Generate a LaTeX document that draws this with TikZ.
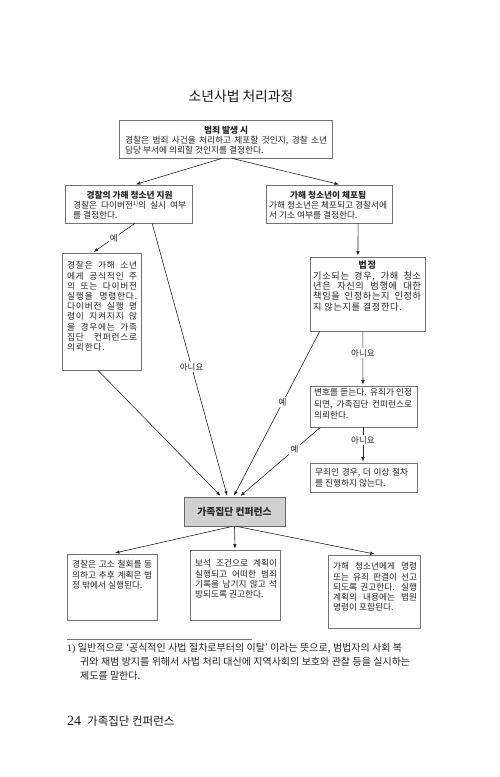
\documentclass[tikz,border=0pt]{standalone}
\usepackage{fontspec}
\setmainfont{Noto Sans CJK KR}
\newfontfamily\numfont{Liberation Serif}
\newfontfamily\krwide[LetterSpace=9]{Noto Sans CJK KR}
\newfontfamily\krwider[LetterSpace=7]{Noto Sans CJK KR}
\usetikzlibrary{arrows.meta,calc}
\newcommand\myjust[2]{\makebox[#1pt][s]{#2}}
\newcommand\myleft[2]{\makebox[#1pt][l]{#2}}
\newcommand\bxfont{\fontsize{8.7}{10.2}\selectfont}
\tikzset{
  boxst/.style={draw=black!55, line width=0.7pt, inner sep=0pt, fill=white},
  graybox/.style={draw=black!60, line width=0.7pt, inner sep=0pt, fill=black!18},
  txt/.style={inner sep=0pt, align=center, font=\bxfont, text=black!85, anchor=north west},
  conn/.style={draw=black!85, line width=0.6pt, -{Latex[length=4.5pt,width=3.4pt]}, shorten >=1pt},
  lbl/.style={font=\fontsize{8.5}{9}\selectfont, fill=white, inner sep=1.2pt, text=black!85}
}
\begin{document}
\begin{tikzpicture}[x=1pt,y=-1pt]
\useasboundingbox[fill=white] (0,0) rectangle (500,777);

% title
\node[font=\fontsize{13.8}{16}\selectfont, text=black!90] (title) at (241,96) {소년사법 처리과정};

% boxes
\node[boxst, minimum width=213pt, minimum height=38pt] (b1) at (225.5,139) {};
\node[boxst, minimum width=127pt, minimum height=38pt] (b2) at (128.5,204) {};
\node[boxst, minimum width=126pt, minimum height=38pt] (b3) at (329,204) {};
\node[boxst, minimum width=79pt, minimum height=117pt] (b4) at (101.5,311.5) {};
\node[boxst, minimum width=115pt, minimum height=74pt] (b5) at (367.5,294) {};
\node[boxst, minimum width=107pt, minimum height=41pt] (b6) at (363.5,406.5) {};
\node[boxst, minimum width=107pt, minimum height=29pt] (b7) at (363.5,477.5) {};
\node[graybox, minimum width=101pt, minimum height=29pt, font=\fontsize{9.8}{11}\bfseries\selectfont, text=black!85] (g) at (234.5,511.5) {가족집단 컨퍼런스};
\node[boxst, minimum width=90pt, minimum height=66pt] (bA) at (112,587) {};
\node[boxst, minimum width=90pt, minimum height=70pt] (bB) at (235,585) {};
\node[boxst, minimum width=92pt, minimum height=73pt] (bC) at (374,591.5) {};

% texts
\node[txt] (t1) at (125,125.5) {{\bfseries 범죄 발생 시}\\
\myjust{202}{경찰은 범죄 사건을 처리하고 체포할 것인지, 경찰 소년}\\
\myleft{202}{담당 부서에 의뢰할 것인지를 결정한다.}};
\node[txt] (t2) at (73,190.5) {{\bfseries 경찰의 가해 청소년 지원}\\
\myjust{113}{경찰은 다이버전\raisebox{3.2pt}{\fontsize{5.5}{5.5}\selectfont 1)}의 실시 여부}\\
\myleft{113}{를 결정한다.}};
\node[txt] (t3) at (269,190.5) {{\bfseries 가해 청소년이 체포됨}\\
\myjust{118}{가해 청소년은 체포되고 경찰서에}\\
\myleft{118}{서 기소 여부를 결정한다.}};
\node[txt, font=\krwide\bxfont] (t4) at (67,261.5) {\myjust{70}{경찰은 가해 소년}\\
\myjust{70}{에게 공식적인 주}\\
\myjust{70}{의 또는 다이버전}\\
\myjust{70}{실행을 명령한다.}\\
\myjust{70}{다이버전 실행 명}\\
\myjust{70}{령이 지켜지지 않}\\
\myjust{70}{을 경우에는 가족}\\
\myjust{70}{집단 컨퍼런스로}\\
\myleft{70}{의뢰한다.}};
\node[txt, font=\krwider\fontsize{9.2}{10.3}\selectfont] (t5) at (313,261) {{\bfseries 법정}\\
\myjust{108}{기소되는 경우, 가해 청소}\\
\myjust{108}{년은 자신의 범행에 대한}\\
\myjust{108}{책임을 인정하는지 인정하}\\
\myleft{108}{지 않는지를 결정한다.}};
\node[txt, font=\fontsize{8.7}{11.5}\selectfont] (t6) at (314,388.5) {\myjust{98}{변호를 듣는다. 유죄가 인정}\\
\myjust{98}{되면, 가족집단 컨퍼런스로}\\
\myleft{98}{의뢰한다.}};
\node[txt] (t7) at (315,468.5) {\myjust{93}{무죄인 경우, 더 이상 절차}\\
\myleft{93}{를 진행하지 않는다.}};
\node[txt] (tA) at (72,560.5) {\myjust{80}{경찰은 고소 철회를 동}\\
\myjust{80}{의하고 추후 계획은 법}\\
\myleft{80}{정 밖에서 실행된다.}};
\node[txt] (tB) at (195,559.5) {\myjust{82}{보석 조건으로 계획이}\\
\myjust{82}{실행되고 어떠한 범죄}\\
\myjust{82}{기록을 남기지 않고 석}\\
\myleft{82}{방되도록 권고한다.}};
\node[txt] (tC) at (333,562.5) {\myjust{84}{가해 청소년에게 명령}\\
\myjust{84}{또는 유죄 판결이 선고}\\
\myjust{84}{되도록 권고한다. 실행}\\
\myjust{84}{계획의 내용에는 법원}\\
\myleft{84}{명령이 포함된다.}};

% connectors
\draw[conn] ($(b1.south west)!0.484!(b1.south east)$) -- ($(b2.north west)!0.55!(b2.north east)$);
\draw[conn] ($(b1.south west)!0.53!(b1.south east)$) -- ($(b3.north west)!0.587!(b3.north east)$);
\draw[conn] ($(b2.south west)!0.55!(b2.south east)$) -- node[lbl, pos=0.5] (l1) {예} ($(b4.north west)!0.39!(b4.north east)$);
\draw[conn] ($(b2.south west)!0.685!(b2.south east)$) -- node[lbl, pos=0.525] (l2) {아니요} ($(g.north west)!0.43!(g.north east)$);
\draw[conn] ($(b4.south west)!0.456!(b4.south east)$) -- ($(g.north west)!0.37!(g.north east)$);
\draw[conn] ($(b3.south west)!0.73!(b3.south east)$) -- ($(b5.north west)!0.417!(b5.north east)$);
\draw[conn] ($(b5.south west)!0.46!(b5.south east)$) -- node[lbl, pos=0.4] (l3) {아니요} ($(b6.north west)!0.495!(b6.north east)$);
\draw[conn] ($(b5.south west)!0.087!(b5.south east)$) -- node[lbl, pos=0.43] (l4) {예} ($(g.north west)!0.49!(g.north east)$);
\draw[conn] ($(b6.south west)!0.1!(b6.south east)$) -- node[lbl, pos=0.32] (l5) {예} ($(g.north west)!0.55!(g.north east)$);
\draw[conn] ($(b6.south west)!0.495!(b6.south east)$) -- node[lbl, pos=0.36] (l6) {아니요} ($(b7.north west)!0.495!(b7.north east)$);
\draw[conn, shorten >=3pt] ($(g.south)+(-2,0)$) -- (bA.north);
\draw[conn] (g.south) -- (bB.north);
\draw[conn, shorten >=3pt] ($(g.south)+(2,0)$) -- ($(bC.north west)!0.54!(bC.north east)$);

% footnote
\coordinate (r1) at (67,639);
\coordinate (r2) at (252,639);
\draw[black!55, line width=0.6pt] (r1) -- (r2);
\node[inner sep=0pt, anchor=north west, align=left, font=\fontsize{10}{14}\selectfont, text=black!85] (fn) at (67,643) {%
\makebox[335pt][s]{{\numfont 1)} 일반적으로 ‘공식적인 사법 절차로부터의 이탈’ 이라는 뜻으로, 범법자의 사회 복}\\
\hspace*{13pt}\makebox[330pt][s]{귀와 재범 방지를 위해서 사법 처리 대신에 지역사회의 보호와 관찰 등을 실시하는}\\
\hspace*{13pt}제도를 말한다.};

% page footer
\node[inner sep=0pt, anchor=west, font=\fontsize{14}{15}\selectfont\numfont, text=black!90] (pn) at (67,721) {24};
\node[inner sep=0pt, anchor=west, font=\fontsize{11.5}{13}\selectfont, text=black!90] (pt) at (87,721) {가족집단 컨퍼런스};
\end{tikzpicture}
\end{document}
